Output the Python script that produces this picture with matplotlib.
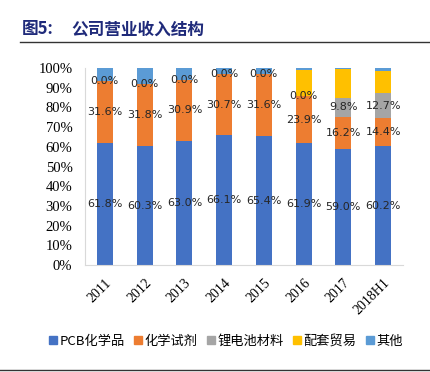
import numpy as np
import matplotlib.pyplot as plt
from matplotlib.lines import Line2D
from matplotlib.patches import Patch

plt.rcParams['font.family'] = ['Noto Sans CJK SC', 'DejaVu Sans']

years = ["2011", "2012", "2013", "2014", "2015", "2016", "2017", "2018H1"]
series_names = ["PCB化学品", "化学试剂", "锂电池材料", "配套贸易", "其他"]
pcb = [61.8, 60.3, 63.0, 66.1, 65.4, 61.9, 59.0, 60.2]
reagent = [31.6, 31.8, 30.9, 30.7, 31.6, 23.9, 16.2, 14.4]
lithium = [0.0, 0.0, 0.0, 0.0, 0.0, 0.0, 9.8, 12.7]
trade = [0.0, 0.0, 0.0, 0.0, 0.0, 13.2, 14.6, 11.3]
other = [6.6, 7.9, 6.1, 3.2, 3.0, 1.2, 0.4, 1.4]
colors = ["#4472C4", "#ED7D31", "#A5A5A5", "#FFC000", "#5B9BD5"]

fig = plt.figure(figsize=(4.31, 3.72), dpi=100)
ax = fig.add_axes([85 / 431, 1 - 265 / 372, 318 / 431, 197 / 372])

x = np.arange(len(years))
bottom = np.zeros(len(years))
all_series = [pcb, reagent, lithium, trade, other]
for k, vals in enumerate(all_series):
    vals = np.array(vals)
    ax.bar(x, vals, 0.4, bottom=bottom, color=colors[k], zorder=2)
    if k < 3:
        for i in range(len(years)):
            ax.text(x[i], bottom[i] + vals[i] / 2, f"{vals[i]:.1f}%",
                    ha="center", va="center", fontsize=8,
                    family="DejaVu Sans", color="#262626", zorder=3)
    bottom += vals

ax.set_xlim(-0.5, 7.5)
ax.set_ylim(0, 100)
ax.set_yticks(np.arange(0, 101, 10))
ax.set_yticklabels([f"{v}%" for v in range(0, 101, 10)],
                   family="Liberation Serif", fontsize=10.5)
ax.set_xticks(x)
ax.set_xticklabels(years, family="Liberation Serif", fontsize=10,
                   rotation=45, ha="right", rotation_mode="anchor")
ax.tick_params(axis="y", length=0, pad=9)
ax.tick_params(axis="x", length=0, pad=8)
for s in ["top", "right"]:
    ax.spines[s].set_visible(False)
for s in ["left", "bottom"]:
    ax.spines[s].set_color("#D9D9D9")

handles = [Patch(color=c) for c in colors]
fig.legend(handles, series_names, loc="center", bbox_to_anchor=(226 / 431, 1 - 341 / 372),
           ncol=5, frameon=False, fontsize=9.5, handlelength=0.6, handleheight=0.6,
           handletextpad=0.2, columnspacing=0.7)

fig.text(22 / 431, 1 - 29 / 372, "图5:", fontsize=12,
         fontweight="bold", color="#1F2A7A", va="center")
fig.text(71 / 431, 1 - 29 / 372, "公司营业收入结构", fontsize=12,
         fontweight="bold", color="#1F2A7A", va="center")
fig.add_artist(Line2D([20 / 431, 430 / 431], [1 - 42 / 372, 1 - 42 / 372],
                      color="#333333", lw=1))
fig.add_artist(Line2D([0, 430 / 431], [1 - 370 / 372, 1 - 370 / 372],
                      color="#333333", lw=1))

fig.savefig("out.png", dpi=100)
